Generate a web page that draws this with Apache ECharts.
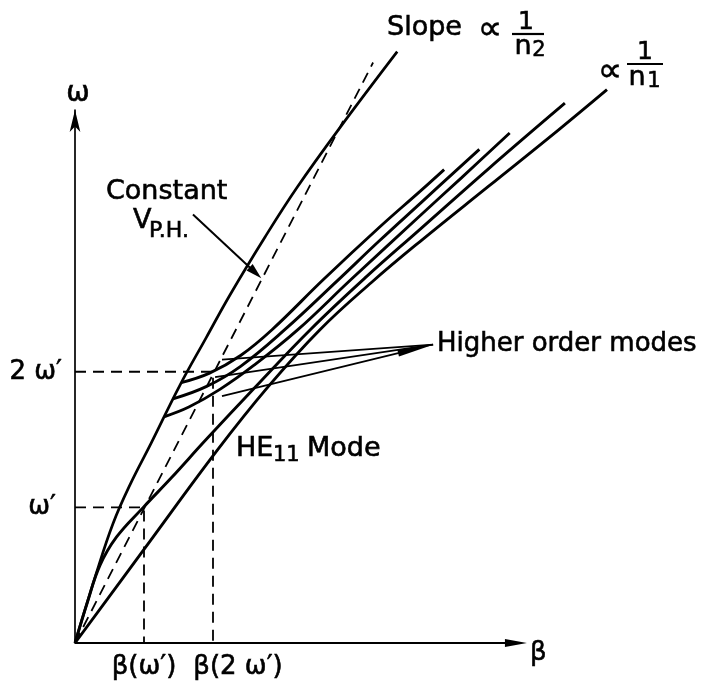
<!DOCTYPE html>
<html>
<head>
<meta charset="utf-8">
<script src="https://cdn.jsdelivr.net/npm/echarts@6/dist/echarts.min.js"></script>
<style>
  html, body { margin: 0; padding: 0; background: #fff; }
  #chart { width: 714px; height: 684px; }
</style>
</head>
<body>
<div id="chart"></div>
<script>
// Dispersion diagram of a step-index fibre: omega against beta.
// Units: beta in multiples of beta(w'), omega in multiples of w'.

const xTickValues = [1, 2];
const xTickLabels = ['β(ω′)', 'β(2 ω′)'];
const yTickValues = [1, 2];
const yTickLabels = ['ω′', '2 ω′'];

// length of the drawn beta axis (the plotting range runs further right)
const betaAxisEnd = 6.55;

// light line of the cladding, slope proportional to 1/n2
const claddingLine = [
  [0, 0], [0.30, 0.50], [0.55, 0.88], [0.80, 1.17], [1.10, 1.47],
  [1.52, 1.90], [1.90, 2.25], [2.25, 2.57], [2.75, 2.99], [3.22, 3.36],
  [3.84, 3.80], [4.67, 4.36]
];

// light line of the core, slope proportional to 1/n1
const coreLine = [
  [0, 0], [1.0, 0.69], [2.06, 1.42], [2.8, 1.89], [3.55, 2.31],
  [4.3, 2.66], [5.0, 2.96], [6.0, 3.37], [7.0, 3.78], [7.71, 4.08]
];

// fundamental HE11 mode
const he11Mode = [
  [0, 0], [0.18, 0.30], [0.36, 0.57], [0.60, 0.78], [0.99, 1.0],
  [1.4, 1.22], [1.9, 1.50], [2.6, 1.88], [3.41, 2.31], [4.2, 2.69],
  [5.0, 3.05], [6.0, 3.50], [7.10, 3.98]
];

// higher order modes, each starting at its cut-off on the cladding line
const mode1 = [
  [1.54, 1.92], [1.95, 1.99], [2.4, 2.12], [2.855, 2.31], [3.6, 2.68],
  [4.4, 3.06], [5.0, 3.33], [5.35, 3.49]
];
const mode2 = [
  [1.42, 1.80], [1.9, 1.89], [2.4, 2.04], [3.04, 2.31], [3.8, 2.67],
  [4.4, 2.96], [5.0, 3.24], [5.86, 3.64]
];
const mode3 = [
  [1.30, 1.67], [1.65, 1.74], [2.1, 1.87], [2.6, 2.05], [3.23, 2.31],
  [4.0, 2.68], [5.0, 3.15], [5.6, 3.43], [6.30, 3.76]
];

// line of constant phase velocity through (beta(w'), w') and (beta(2w'), 2w')
const constantPhaseLine = [[0, 0], [4.32, 4.28]];

// guides from the axes to the two marked operating points
const guideW1 = [[0, 1], [1, 1], [1, 0]];
const guideW2 = [[0, 2], [2, 2], [2, 0]];

// pointers: [x0, y0, x1, y1, headLength(px), headHalfWidth(px), lineWidth]
const pointers = [
  [0, 0, betaAxisEnd, 0, 22, 4, 2.2],
  [1.71, 3.16, 2.70, 2.69, 16, 4.5, 2],
  [2.13, 2.09, 5.19, 2.20, 0, 0, 1.8],
  [2.03, 1.96, 5.19, 2.20, 0, 0, 1.8],
  [2.13, 1.82, 5.19, 2.20, 36, 3.5, 1.8]
];

const FONT = '"DejaVu Sans", sans-serif';
const chart = echarts.init(document.getElementById('chart'), null, { renderer: 'canvas' });

function curve(data, width) {
  return {
    type: 'line', data: data, smooth: 0.4, showSymbol: false, clip: false,
    silent: true, lineStyle: { color: '#000', width: width || 2.9 }
  };
}
function dashed(data) {
  return {
    type: 'line', data: data, showSymbol: false, clip: false, silent: true,
    lineStyle: { color: '#000', width: 1.8, type: [11, 7] }
  };
}

function renderPointer(params, api) {
  const p0 = api.coord([api.value(0), api.value(1)]);
  const p1 = api.coord([api.value(2), api.value(3)]);
  const len = api.value(4), hw = api.value(5), lw = api.value(6);
  const dx = p1[0] - p0[0], dy = p1[1] - p0[1];
  const d = Math.hypot(dx, dy), ux = dx / d, uy = dy / d;
  const children = [{
    type: 'line',
    shape: { x1: p0[0], y1: p0[1], x2: p1[0] - ux * len * 0.5, y2: p1[1] - uy * len * 0.5 },
    style: { stroke: '#000', lineWidth: lw }
  }];
  if (len > 0) {
    const bx = p1[0] - ux * len, by = p1[1] - uy * len;
    children.push({
      type: 'polygon',
      shape: { points: [[p1[0], p1[1]], [bx - uy * hw, by + ux * hw], [bx + uy * hw, by - ux * hw]] },
      style: { fill: '#000' }
    });
  }
  return { type: 'group', children: children };
}

function tickLookup(values, labels) {
  return function (v) {
    const i = values.findIndex(t => Math.abs(t - v) < 1e-9);
    if (i < 0) return '';
    return '{t' + i + '|' + labels[i] + '}';
  };
}

function txt(text, x, y, size, align) {
  return {
    type: 'text', silent: true, x: x, y: y,
    style: {
      text: text, textAlign: align || 'left', textVerticalAlign: 'middle',
      fill: '#000', stroke: '#000', lineWidth: 0.6, font: size + 'px ' + FONT
    }
  };
}
function bar(x1, x2, y) {
  return { type: 'line', silent: true, shape: { x1: x1, y1: y, x2: x2, y2: y }, style: { stroke: '#000', lineWidth: 2.2 } };
}

const labelRich = (pad) => ({
  fontFamily: FONT, fontSize: 26, color: '#000',
  textBorderColor: '#000', textBorderWidth: 0.6, padding: pad
});

chart.setOption({
  backgroundColor: '#fff',
  animation: false,
  grid: { left: 75, top: 110, width: 545.1, height: 533 },
  xAxis: {
    type: 'value', min: 0, max: 7.9, interval: 1,
    axisLine: { show: false },
    axisTick: { show: false }, splitLine: { show: false },
    axisLabel: {
      show: true, margin: 11, color: '#000', fontFamily: FONT, fontSize: 26,
      showMaxLabel: false,
      formatter: tickLookup(xTickValues, xTickLabels),
      rich: { t0: labelRich([0, 0, 0, 0]), t1: labelRich([0, 0, 0, 50]) }
    }
  },
  yAxis: {
    type: 'value', min: 0, max: 3.93, interval: 1,
    axisLine: { show: true, symbol: ['none', 'arrow'], symbolSize: [8, 22], lineStyle: { color: '#000', width: 1.7 } },
    axisTick: { show: false }, splitLine: { show: false },
    axisLabel: {
      show: true, margin: 13, color: '#000', fontFamily: FONT, fontSize: 26,
      showMaxLabel: false,
      formatter: tickLookup(yTickValues, yTickLabels),
      rich: { t0: labelRich([0, 6, 0, 0]), t1: labelRich([0, 0, 0, 0]) }
    }
  },
  series: [
    dashed(constantPhaseLine),
    dashed(guideW1),
    dashed(guideW2),
    curve(claddingLine, 2.7),
    curve(coreLine),
    curve(he11Mode),
    curve(mode1),
    curve(mode2),
    curve(mode3),
    {
      type: 'custom', clip: false, silent: true,
      renderItem: renderPointer,
      encode: { x: [0, 2], y: [1, 3] },
      data: pointers
    }
  ],
  graphic: [
    txt('ω', 78, 94, 28, 'center'),
    txt('β', 530, 653, 26),
    txt('Slope', 387, 28, 27),
    txt('∝', 490, 30, 34, 'center'),
    txt('1', 526, 22, 25, 'center'),
    bar(512, 544, 34),
    txt('n', 523, 47, 27, 'center'),
    txt('2', 539, 51, 21, 'center'),
    txt('∝', 610, 72, 34, 'center'),
    txt('1', 645, 52, 25, 'center'),
    bar(627, 663, 64),
    txt('n', 637, 78, 27, 'center'),
    txt('1', 654, 82, 21, 'center'),
    txt('Constant', 106, 192, 27),
    txt('V', 133, 221, 27),
    txt('P.H.', 149, 231, 22),
    txt('Higher order modes', 437, 344, 26),
    txt('HE', 236, 449, 27),
    txt('11', 273, 456, 21),
    txt('Mode', 307, 449, 27)
  ]
});
</script>
</body>
</html>
